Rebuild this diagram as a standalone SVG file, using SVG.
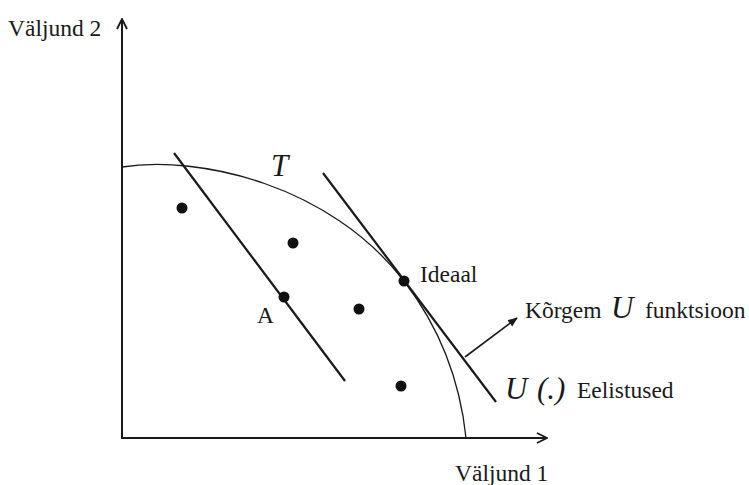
<svg xmlns="http://www.w3.org/2000/svg" width="749" height="485" viewBox="0 0 749 485">
<defs>
<style>
.t{font-family:"Liberation Serif","Times New Roman",serif;fill:#1a1a1a;font-size:23.5px}
.m{font-family:"Liberation Serif","Times New Roman",serif;font-style:italic;fill:#1a1a1a;font-size:31px}
.ax{stroke:#1a1a1a;stroke-width:2;fill:none}
.ln{stroke:#1a1a1a;stroke-width:2.2;fill:none}
.dot{fill:#111}
</style>
<marker id="ah" viewBox="0 0 12 12" refX="11" refY="6" markerWidth="12" markerHeight="12" markerUnits="userSpaceOnUse" orient="auto">
<path d="M1,1 L11,6 L1,11" fill="none" stroke="#1a1a1a" stroke-width="1.8"/>
</marker>
<marker id="ah2" viewBox="0 0 10 10" refX="9" refY="5" markerWidth="10" markerHeight="10" markerUnits="userSpaceOnUse" orient="auto">
<path d="M0,1 L10,5 L0,9 Z" fill="#1a1a1a"/>
</marker>
</defs>
<rect width="749" height="485" fill="#fff"/>
<g id="axes">
<line class="ax" x1="122" y1="438" x2="122" y2="19" marker-end="url(#ah)"/>
<line class="ax" x1="121" y1="438" x2="547" y2="438" marker-end="url(#ah)"/>
</g>
<g id="connectors">
<path id="curve-T" d="M122,167 C200,155 330,185 404,281 C440,328 460,380 466,438" fill="none" stroke="#1a1a1a" stroke-width="1.3"/>
<line id="line-A" class="ln" x1="174" y1="153" x2="345" y2="381"/>
<line id="line-U" class="ln" x1="323" y1="173" x2="496" y2="402"/>
<line id="arrow-higher" x1="465" y1="357" x2="517" y2="318" stroke="#1a1a1a" stroke-width="1.6" marker-end="url(#ah2)"/>
</g>
<g id="points">
<circle class="dot" cx="182" cy="208" r="5.5"/>
<circle class="dot" cx="293" cy="243" r="5.5"/>
<circle class="dot" cx="404" cy="281" r="5.5"/>
<circle class="dot" cx="284" cy="297" r="5.5"/>
<circle class="dot" cx="359" cy="309" r="5.5"/>
<circle class="dot" cx="401" cy="386" r="5.5"/>
</g>
<g id="labels">
<text class="t" x="8" y="36">Väljund 2</text>
<text class="t" x="455" y="481">Väljund 1</text>
<text class="m" x="271" y="176">T</text>
<text class="t" x="420" y="282">Ideaal</text>
<text class="t" x="257" y="323">A</text>
<text class="t" x="525" y="318">Kõrgem</text>
<text class="m" x="611" y="318">U</text>
<text class="t" x="645" y="318">funktsioon</text>
<text class="m" x="505" y="399">U</text>
<text class="m" x="537" y="399">(.)</text>
<text class="t" x="577" y="398">Eelistused</text>
</g>
</svg>
